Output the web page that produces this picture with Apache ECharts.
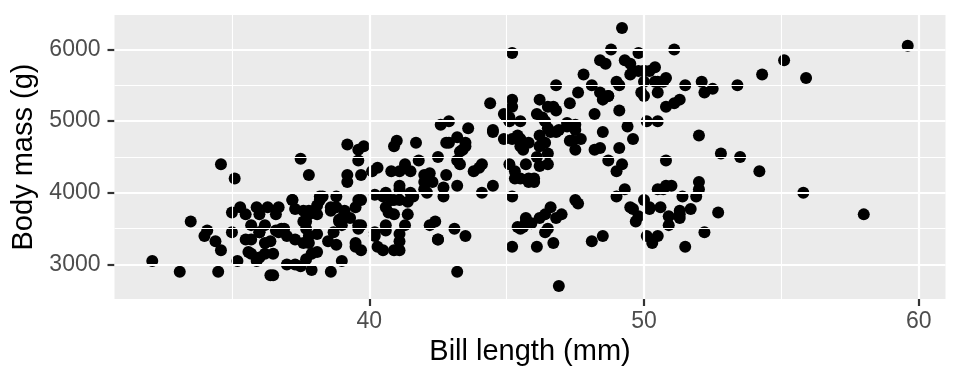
<!DOCTYPE html>
<html>
<head>
<meta charset="utf-8">
<script src="https://cdn.jsdelivr.net/npm/echarts@6/dist/echarts.min.js"></script>
<style>html,body{margin:0;padding:0;background:#fff}#c{width:960px;height:384px}</style>
</head>
<body>
<div id="c"></div>
<script>
// Bill length (mm)
const billLength = [
39.1,39.5,40.3,36.7,39.3,38.9,39.2,34.1,42.0,37.8,37.8,41.1,38.6,34.6,36.6,38.7,42.5,34.4,46.0,37.8,
37.7,35.9,38.2,38.8,35.3,40.6,40.5,37.9,40.5,39.5,37.2,39.5,40.9,36.4,39.2,38.8,42.2,37.6,39.8,36.5,
40.8,36.0,44.1,37.0,39.6,41.1,37.5,36.0,42.3,39.6,40.1,35.0,42.0,34.5,41.4,39.0,40.6,36.5,37.6,35.7,
41.3,37.6,41.1,36.4,41.6,35.5,41.1,35.9,41.8,33.5,39.7,39.6,45.8,35.5,42.8,40.9,37.2,36.2,42.1,34.6,
42.9,36.7,35.1,37.3,41.3,36.3,36.9,38.3,38.9,35.7,41.1,34.0,39.6,36.2,40.8,38.1,40.3,33.1,43.2,35.0,
41.0,37.7,37.8,37.9,39.7,38.6,38.2,38.1,43.2,38.1,45.6,39.7,42.2,39.6,42.7,38.6,37.3,35.7,41.1,36.2,
37.7,40.2,41.4,35.2,40.6,38.8,41.5,39.0,44.1,38.5,43.1,36.8,37.5,38.1,41.1,35.6,40.2,37.0,39.7,40.2,
40.6,32.1,40.7,37.3,39.0,39.2,36.6,36.0,37.8,36.0,41.5,
46.1,50.0,48.7,50.0,47.6,46.5,45.4,46.7,43.3,46.8,40.9,49.0,45.5,48.4,45.8,49.3,42.0,49.2,46.2,48.7,
50.2,45.1,46.5,46.3,42.9,46.1,44.5,47.8,48.2,50.0,47.3,42.8,45.1,59.6,49.1,48.4,42.6,44.4,44.0,48.7,
42.7,49.6,45.3,49.6,50.5,43.6,45.5,50.5,44.9,45.2,46.6,48.5,45.1,50.1,46.5,45.0,43.8,45.5,43.2,50.4,
45.3,46.2,45.7,54.3,45.8,49.8,46.2,49.5,43.5,50.7,47.7,46.4,48.2,46.5,46.4,48.6,47.5,51.1,45.2,45.2,
49.1,52.5,47.4,50.0,44.9,50.8,43.4,51.3,47.5,52.1,47.5,52.2,45.5,49.5,44.5,50.8,49.4,46.9,48.4,51.1,
48.5,55.9,47.2,49.1,47.3,46.8,41.7,53.4,43.3,48.1,50.5,49.8,43.5,51.5,46.2,55.1,44.5,48.8,47.2,46.8,
50.4,45.2,49.9,
46.5,50.0,51.3,45.4,52.7,45.2,46.1,51.3,46.0,51.3,46.6,51.7,47.0,52.0,45.9,50.5,50.3,58.0,46.4,49.2,
42.4,48.5,43.2,50.6,46.7,52.0,50.5,49.5,46.4,52.8,40.9,54.2,42.5,51.0,49.7,47.5,47.6,52.0,46.9,53.5,
49.0,46.2,50.9,45.5,50.9,50.8,50.1,49.0,51.5,49.8,48.1,51.4,45.7,50.7,42.5,52.2,45.2,49.3,50.2,45.6,
51.9,46.8,45.7,55.8,43.5,49.6,50.8,50.2
];
// Body mass (g)
const bodyMass = [
3750,3800,3250,3450,3650,3625,4675,3475,4250,3300,3700,3200,3800,4400,3700,3450,4500,3325,4200,3400,
3600,3800,3950,3800,3800,3550,3200,3150,3950,3250,3900,3300,3900,3325,4150,3950,3550,3300,4650,3150,
3900,3100,4400,3000,4600,3425,2975,3450,4150,3500,4300,3450,4050,2900,3700,3550,3800,2850,3750,3150,
4400,3600,4050,2850,3950,3350,4100,3050,4450,3600,3900,3550,4150,3700,4250,3700,3900,3550,4000,3200,
4700,3800,4200,3350,3550,3800,3500,3950,3600,3550,4300,3400,4450,3300,4300,3700,4350,2900,4100,3725,
4725,3075,4250,2925,3550,3750,3900,3175,4775,3825,4600,3200,4275,3900,4075,2900,3775,3350,3325,3150,
3500,3450,3875,3050,4000,3275,4300,3050,4000,3325,3500,3500,4475,3425,3900,3175,3975,3400,4250,3400,
3475,3050,3725,3000,3650,4250,3475,3450,3750,3700,4000,
4500,5700,4450,5700,5400,4550,4800,5200,4400,5150,4650,5550,4650,5850,4200,5850,4150,6300,4800,5350,
5700,5000,4400,5050,5000,5100,4100,5650,4600,5550,5250,4700,5050,6050,5150,5400,4950,5250,4350,5350,
3950,5700,4300,4750,5550,4900,4200,5400,5100,5300,4850,5300,4400,5000,4900,5050,4300,5000,4450,5550,
4200,5300,4400,5650,4700,5700,4650,5800,4700,5550,4750,5000,5100,5200,4700,5800,4600,6000,4750,5950,
4625,5450,4725,5350,4750,5600,4600,5300,4875,5550,4950,5400,4750,5650,4850,5200,4925,4875,4625,5250,
4850,5600,4975,5500,4725,5500,4700,5500,4575,5500,5000,5950,4650,5500,4375,5850,4875,6000,4925,4850,
5750,5200,5400,
3500,3900,3650,3525,3725,3950,3250,3750,4150,3700,3800,3775,3700,4050,3575,4050,3300,3700,3450,4400,
3600,3400,2900,3800,3300,4150,3400,3800,3700,4550,3200,4300,3350,4100,3600,3900,3850,4800,2700,4500,
3950,3650,3550,3500,3675,4450,3400,4300,3250,3675,3325,3950,3600,4050,3350,3450,3250,4050,3800,3525,
3950,3650,3650,4000,3400,3775,4100,3775
];
const xTicks = [40, 50, 60];
const yTicks = [3000, 4000, 5000, 6000];
const xMinor = [35, 45, 55];
const yMinor = [3500, 4500, 5500];

const points = billLength.map((v, i) => [v, bodyMass[i]]);
const font = '"Liberation Sans", Arial, Helvetica, sans-serif';

const gridLines = [];
xMinor.forEach(v => gridLines.push({ xAxis: v, lineStyle: { width: 1.1 } }));
yMinor.forEach(v => gridLines.push({ yAxis: v, lineStyle: { width: 1.1 } }));
xTicks.forEach(v => gridLines.push({ xAxis: v, lineStyle: { width: 2.2 } }));
yTicks.forEach(v => gridLines.push({ yAxis: v, lineStyle: { width: 2.2 } }));

const chart = echarts.init(document.getElementById('c'), null, { renderer: 'canvas' });
chart.setOption({
  animation: false,
  backgroundColor: '#ffffff',
  grid: { left: 114.5, right: 14.5, top: 15, bottom: 85, show: true, backgroundColor: '#EBEBEB', borderWidth: 0 },
  xAxis: {
    type: 'value', min: 30.725, max: 60.975,
    name: 'Bill length (mm)', nameLocation: 'middle', nameGap: 37,
    nameTextStyle: { fontFamily: font, fontSize: 29, color: '#000' },
    axisLine: { show: false },
    axisTick: { show: true, customValues: xTicks, length: 7, lineStyle: { color: '#333333', width: 2.2 } },
    axisLabel: { customValues: xTicks, fontFamily: font, fontSize: 23, color: '#4D4D4D', margin: 11,
      formatter: v => String(v) },
    splitLine: { show: false }
  },
  yAxis: {
    type: 'value', min: 2520, max: 6480,
    name: 'Body mass (g)', nameLocation: 'middle', nameGap: 76,
    nameTextStyle: { fontFamily: font, fontSize: 29, color: '#000' },
    axisLine: { show: false },
    axisTick: { show: true, customValues: yTicks, length: 7, lineStyle: { color: '#333333', width: 2.2 } },
    axisLabel: { customValues: yTicks, fontFamily: font, fontSize: 23, color: '#4D4D4D', margin: 14,
      formatter: v => String(v) },
    splitLine: { show: false }
  },
  series: [
    {
      type: 'scatter', data: [], z: 1, silent: true,
      markLine: {
        silent: true, symbol: ['none', 'none'], label: { show: false }, animation: false,
        lineStyle: { color: '#ffffff', type: 'solid' },
        emphasis: { disabled: true },
        data: gridLines
      }
    },
    {
      type: 'scatter', data: points, z: 3, symbol: 'circle', symbolSize: 12,
      itemStyle: { color: '#000000', opacity: 1 }
    }
  ]
});
</script>
</body>
</html>
